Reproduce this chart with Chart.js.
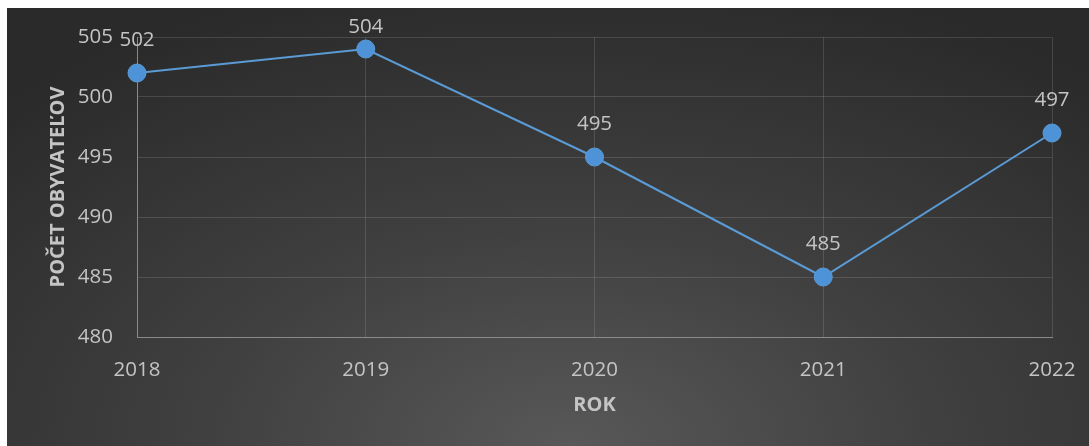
<!DOCTYPE html>
<html>
<head>
<meta charset="utf-8">
<script src="https://cdn.jsdelivr.net/npm/chart.js@4.4.1/dist/chart.umd.min.js"></script>
<style>
  html, body { margin: 0; padding: 0; background: #fff; overflow: hidden; }
  #box {
    position: absolute; left: 7px; top: 8px; width: 1082px; height: 438px;
    background: radial-gradient(ellipse 75% 110% at 52% 100%, #585858 0%, #404040 45%, #2a2a2a 100%);
  }
</style>
</head>
<body>
<div id="box"><canvas id="chart" width="1082" height="438"></canvas></div>
<script>
// --- DATA ---
const years = ['2018', '2019', '2020', '2021', '2022'];
const population = [502, 504, 495, 485, 497];
const yTicks = [480, 485, 490, 495, 500, 505];

const textColor = '#c4c4c4';
const fontFamily = "'Open Sans', sans-serif";

// value labels above points (kept inside the box like Excel does)
const valueLabels = {
  id: 'valueLabels',
  afterDatasetsDraw(chart) {
    const ctx = chart.ctx;
    const meta = chart.getDatasetMeta(0);
    ctx.save();
    ctx.font = "20.5px 'Open Sans', sans-serif";
    ctx.fillStyle = textColor;
    ctx.textAlign = 'center';
    ctx.textBaseline = 'middle';
    meta.data.forEach((pt, i) => {
      let y = Math.max(pt.y - 33, 19);
      ctx.fillText(String(population[i]), pt.x, y);
    });
    ctx.restore();
  }
};

new Chart(document.getElementById('chart'), {
  type: 'line',
  data: {
    labels: years,
    datasets: [{
      data: population,
      borderColor: '#5b9bd5',
      borderWidth: 2,
      pointRadius: 9,
      pointHoverRadius: 9,
      pointBackgroundColor: '#4e92d8',
      pointBorderColor: '#5b9bd5',
      pointBorderWidth: 1,
      tension: 0,
      clip: false
    }]
  },
  options: {
    responsive: false,
    animation: false,
    layout: { autoPadding: false, padding: { top: 29, right: 37, left: 0, bottom: 0 } },
    plugins: { legend: { display: false }, tooltip: { enabled: false } },
    scales: {
      x: {
        offset: false,
        grid: { color: 'rgba(255,255,255,0.13)', drawTicks: false },
        border: { color: '#8a8a8a', width: 1 },
        ticks: { color: textColor, font: { family: fontFamily, size: 20.5 }, padding: 21, maxRotation: 0 },
        title: { display: true, text: 'ROK', color: textColor, font: { family: fontFamily, size: 20, weight: 'bold' }, padding: { top: 0, bottom: 29 } },
        afterFit: s => { s.height = 109; s.paddingLeft = 0; s.paddingRight = 0; }
      },
      y: {
        min: 480, max: 505,
        afterBuildTicks: s => { s.ticks = yTicks.map(v => ({ value: v })); },
        grid: { color: 'rgba(255,255,255,0.13)', drawTicks: false },
        border: { color: '#8a8a8a', width: 1 },
        ticks: { color: textColor, font: { family: fontFamily, size: 20.5 }, padding: 24 },
        title: { display: true, text: 'POČET OBYVATEĽOV', color: textColor, font: { family: fontFamily, size: 20, weight: 'bold' }, padding: { top: 39, bottom: 0 } },
        afterFit: s => { s.width = 130; s.paddingTop = 0; s.paddingBottom = 0; }
      }
    }
  },
  plugins: [valueLabels]
});
</script>
</body>
</html>
